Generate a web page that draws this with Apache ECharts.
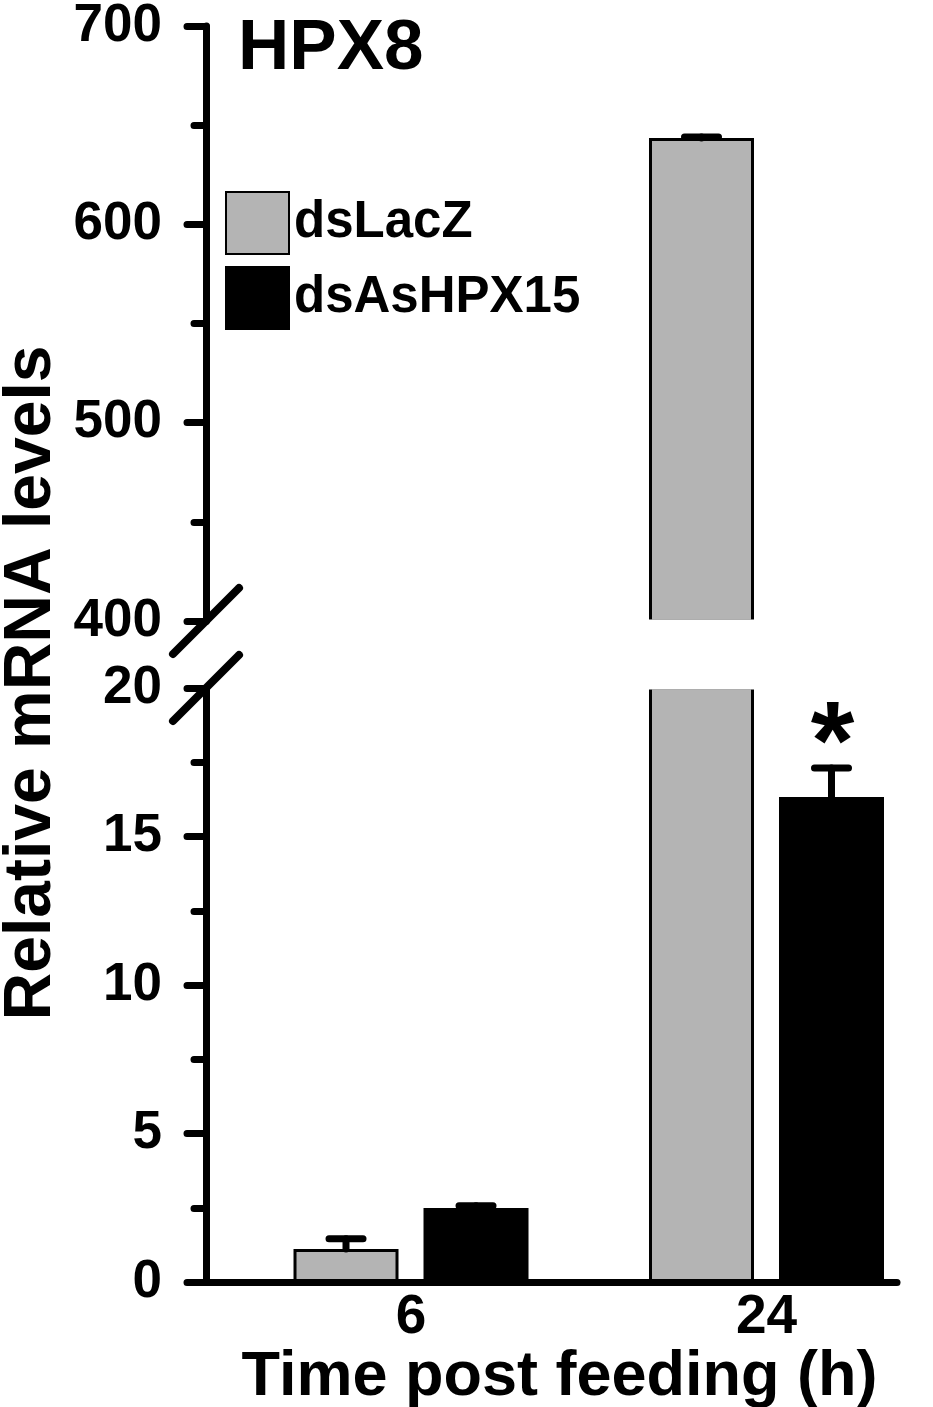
<!DOCTYPE html>
<html><head><meta charset="utf-8">
<script src="https://cdn.jsdelivr.net/npm/echarts@6/dist/echarts.min.js"></script>
<style>html,body{margin:0;padding:0;background:#fff}#c{width:933px;height:1407px}</style>
</head><body><div id="c"></div>
<script>
// ---- data ----
const categories = ['6', '24'];
const seriesNames = ['dsLacZ', 'dsAsHPX15'];
const dsLacZ = [1.11, 643.5];
const dsLacZErr = [0.35, 0.5];
const dsAsHPX15 = [2.49, 16.33];
const dsAsHPX15Err = [0.08, 0.98];
const dsAsHPX15Sig = ['', '*'];
const upperRange = [400, 700];
const lowerRange = [0, 20];
const upperInterval = 100;
const lowerInterval = 5;

// ---- layout / style ----
const FONT = '"Liberation Sans", Arial, Helvetica, sans-serif';
const GRID_L = 206, GRID_R = 897;
const UP_TOP = 26, UP_BOT = 621, LO_TOP = 688, LO_BOT = 1282;
const X_MIN = -0.5767, X_MAX = 1.3671;
const BAR_W = 105, BAR_GAP = 25;
const OFFSET = (BAR_W + BAR_GAP) / 2;
const GRAY = '#b4b4b4';

function errRender(values, errs, offset, sig) {
  return function (params, api) {
    const i = params.dataIndex;
    const p0 = api.coord([i, values[i]]);
    const p1 = api.coord([i, values[i] + errs[i]]);
    const x = p0[0] + offset;
    const ls = {stroke: '#000', lineWidth: 7, lineCap: 'round'};
    const children = [
      {type: 'line', shape: {x1: x, y1: p0[1], x2: x, y2: p1[1]}, style: ls},
      {type: 'line', shape: {x1: x - 17, y1: p1[1], x2: x + 17, y2: p1[1]}, style: ls}
    ];
    if (sig && sig[i]) {
      children.push({type: 'text', x: x + 1, y: p1[1] - 20,
        style: {text: sig[i], font: 'bold 112px ' + FONT, align: 'center', verticalAlign: 'middle', fill: '#000'}});
    }
    return {type: 'group', children: children};
  };
}

function yAxis(gi, range, interval) {
  return {
    gridIndex: gi, type: 'value', min: range[0], max: range[1], interval: interval,
    axisLine: {show: true, onZero: false, lineStyle: {color: '#000', width: 7}},
    axisTick: {show: true, length: 19, lineStyle: {color: '#000', width: 7, cap: 'round'}},
    minorTick: {show: true, splitNumber: 2, length: 12, lineStyle: {color: '#000', width: 7, cap: 'round'}},
    splitLine: {show: false}, minorSplitLine: {show: false},
    axisLabel: {color: '#000', fontSize: 53, fontWeight: 'bold', fontFamily: FONT, margin: 44}
  };
}

function barSeries(name, data, axisIdx, color) {
  return {
    name: name, type: 'bar', xAxisIndex: axisIdx, yAxisIndex: axisIdx,
    data: data.map((v, i) => [i, v]),
    barWidth: BAR_W, barGap: (BAR_GAP / BAR_W * 100) + '%',
    itemStyle: {color: color, borderColor: '#000', borderWidth: 3},
    clip: true, silent: true
  };
}

function errSeries(name, values, errs, axisIdx, offset, sig) {
  return {
    name: name, type: 'custom', xAxisIndex: axisIdx, yAxisIndex: axisIdx,
    data: values.map((v, i) => [i, v, errs[i]]),
    encode: {x: 0, y: 1},
    renderItem: errRender(values, errs, offset, sig),
    clip: true, silent: true, z: 5
  };
}

const chart = echarts.init(document.getElementById('c'), null, {renderer: 'canvas'});
chart.setOption({
  animation: false,
  backgroundColor: '#fff',
  title: {text: 'HPX8', left: 238, top: 14, padding: 0,
    textStyle: {fontSize: 71, fontWeight: 'bold', fontFamily: FONT, color: '#000'}},
  legend: {orient: 'vertical', left: 225, top: 191, padding: 0, itemWidth: 63, itemHeight: 62, itemGap: 11,
    icon: 'rect', data: seriesNames, selectedMode: false,
    textStyle: {fontSize: 51, fontWeight: 'bold', fontFamily: FONT, color: '#000'}},
  grid: [
    {left: GRID_L, width: GRID_R - GRID_L, top: UP_TOP, height: UP_BOT - UP_TOP, containLabel: false, outerBoundsMode: 'none'},
    {left: GRID_L, width: GRID_R - GRID_L, top: LO_TOP, height: LO_BOT - LO_TOP, containLabel: false, outerBoundsMode: 'none'}
  ],
  xAxis: [
    {gridIndex: 0, type: 'value', min: X_MIN, max: X_MAX, show: false,
      axisLine: {onZero: false}, splitLine: {show: false}},
    {gridIndex: 1, type: 'value', min: X_MIN, max: X_MAX,
      axisLine: {show: true, onZero: false, lineStyle: {color: '#000', width: 7, cap: 'round'}},
      axisTick: {show: false}, splitLine: {show: false},
      axisLabel: {show: true, customValues: [0, 1], formatter: v => categories[Math.round(v)] || '',
        color: '#000', fontSize: 55, fontWeight: 'bold', fontFamily: FONT, margin: 8},
      name: 'Time post feeding (h)', nameLocation: 'middle', nameGap: 50,
      nameTextStyle: {color: '#000', fontSize: 63, fontWeight: 'bold', fontFamily: FONT, padding: [0, 0, 0, 16]}}
  ],
  yAxis: [
    yAxis(0, upperRange, upperInterval),
    yAxis(1, lowerRange, lowerInterval)
  ],
  series: [
    barSeries(seriesNames[0], dsLacZ, 0, GRAY),
    barSeries(seriesNames[1], dsAsHPX15, 0, '#000'),
    barSeries(seriesNames[0], dsLacZ, 1, GRAY),
    barSeries(seriesNames[1], dsAsHPX15, 1, '#000'),
    errSeries('errA0', dsLacZ, dsLacZErr, 0, -OFFSET, null),
    errSeries('errB0', dsAsHPX15, dsAsHPX15Err, 0, OFFSET, null),
    errSeries('errA1', dsLacZ, dsLacZErr, 1, -OFFSET, null),
    errSeries('errB1', dsAsHPX15, dsAsHPX15Err, 1, OFFSET, dsAsHPX15Sig)
  ],
  graphic: [
    {type: 'rect', z: 100, silent: true,
      shape: {x: GRID_L + 5, y: UP_BOT - 1.5, width: GRID_R - GRID_L + 10, height: LO_TOP - UP_BOT + 3},
      style: {fill: '#fff'}},
    {type: 'line', z: 101, silent: true,
      shape: {x1: GRID_L - 33, y1: UP_BOT + 33, x2: GRID_L + 33, y2: UP_BOT - 33},
      style: {stroke: '#000', lineWidth: 8, lineCap: 'round'}},
    {type: 'line', z: 101, silent: true,
      shape: {x1: GRID_L - 33, y1: LO_TOP + 33, x2: GRID_L + 33, y2: LO_TOP - 33},
      style: {stroke: '#000', lineWidth: 8, lineCap: 'round'}},
    {type: 'text', z: 101, silent: true, x: 32, y: 683, rotation: Math.PI / 2,
      style: {text: 'Relative mRNA levels', font: 'bold 66px ' + FONT, align: 'center', verticalAlign: 'middle', fill: '#000'}}
  ]
});
</script></body></html>
